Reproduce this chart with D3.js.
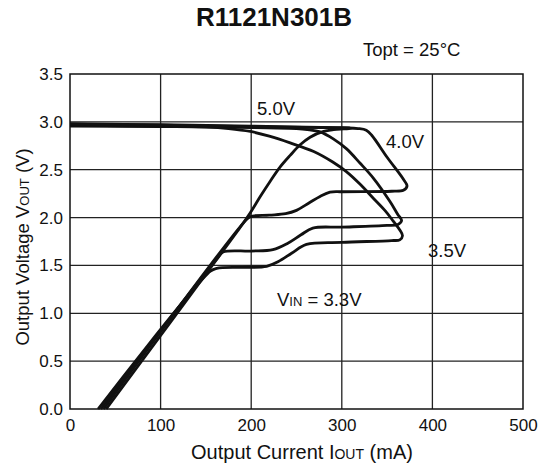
<!DOCTYPE html>
<html>
<head>
<meta charset="utf-8">
<script src="https://cdn.jsdelivr.net/npm/d3@7"></script>
<style>
  body { margin: 0; background: #fff; }
  svg { font-family: "Liberation Sans", Arial, sans-serif; }
</style>
</head>
<body>
<svg width="548" height="466"></svg>
<script>
var xTicks = [0, 100, 200, 300, 400, 500],
    yTicks = [0, 0.5, 1.0, 1.5, 2.0, 2.5, 3.0, 3.5];

// [Iout (mA), Vout (V)]
var vin50 = [[0,2.98],[100,2.97],[200,2.955],[260,2.945],[295,2.94],[308,2.937],[310,2.932],[302,2.926],[291,2.918],[280,2.90],
  [265,2.84],[254,2.76],[243,2.65],[232,2.53],[221,2.38],[210,2.22],[199,2.05],[185,1.86],[40,0]];
var vin40 = [[0,2.975],[100,2.965],[200,2.95],[300,2.937],[318,2.93],[327,2.912],[333,2.86],[350,2.63],[368,2.40],[372,2.33],
  [368,2.285],[355,2.275],[300,2.27],[287,2.265],[276,2.22],[265,2.16],[250,2.075],[238,2.04],[220,2.025],[199,2.01],[192,1.95],[37,0]];
var vin35 = [[0,2.965],[100,2.955],[200,2.94],[250,2.93],[262,2.92],[276,2.895],[291,2.82],[305,2.72],[320,2.57],[335,2.41],
  [353,2.17],[362,2.03],[366,1.97],[362,1.928],[350,1.918],[300,1.90],[268,1.89],[255,1.82],[240,1.73],[224,1.665],[200,1.65],
  [169,1.64],[163,1.58],[34,0]];
var vin33 = [[0,2.955],[100,2.95],[150,2.945],[175,2.93],[199,2.90],[220,2.85],[243,2.78],[269,2.69],[290,2.58],[305,2.48],
  [320,2.35],[335,2.20],[348,2.07],[357,1.96],[364,1.87],[367,1.81],[364,1.767],[355,1.76],[300,1.74],[261,1.72],[245,1.63],
  [230,1.54],[217,1.49],[190,1.48],[162,1.47],[155,1.44],[31,0]];

var svg = d3.select("svg");

var x = d3.scaleLinear().domain([0, 500]).range([70, 523]),
    y = d3.scaleLinear().domain([0, 3.5]).range([409, 74]);

svg.append("rect").attr("width", 548).attr("height", 466).attr("fill", "#fff");

// grid
svg.append("g").selectAll("line")
  .data(xTicks.slice(1, -1))
  .enter().append("line")
    .attr("x1", function(d) { return x(d); }).attr("x2", function(d) { return x(d); })
    .attr("y1", y(0)).attr("y2", y(3.5))
    .attr("stroke", "#222").attr("stroke-width", 1.3);

svg.append("g").selectAll("line")
  .data(yTicks.slice(1, -1))
  .enter().append("line")
    .attr("y1", function(d) { return y(d); }).attr("y2", function(d) { return y(d); })
    .attr("x1", x(0)).attr("x2", x(500))
    .attr("stroke", "#222").attr("stroke-width", 1.3);

svg.append("rect")
    .attr("x", x(0)).attr("y", y(3.5))
    .attr("width", x(500) - x(0)).attr("height", y(0) - y(3.5))
    .attr("fill", "none").attr("stroke", "#111").attr("stroke-width", 1.5);

// axes
var xAxis = svg.append("g")
    .attr("transform", "translate(0," + y(0) + ")")
    .call(d3.axisBottom(x).tickValues(xTicks).tickSize(0).tickPadding(10));
var yAxis = svg.append("g")
    .attr("transform", "translate(" + x(0) + ",0)")
    .call(d3.axisLeft(y).tickValues(yTicks).tickFormat(d3.format(".1f")).tickSize(0).tickPadding(7));
[xAxis, yAxis].forEach(function(g) {
  g.select(".domain").remove();
  g.selectAll("text").attr("font-size", 17).attr("fill", "#111")
    .attr("font-family", "Liberation Sans, Arial, sans-serif");
});

// curves
var line = d3.line()
    .x(function(d) { return x(d[0]); })
    .y(function(d) { return y(d[1]); })
    .curve(d3.curveCatmullRom.alpha(0.5));

svg.append("g").selectAll("path")
  .data([vin33, vin35, vin40, vin50])
  .enter().append("path")
    .attr("d", line)
    .attr("fill", "none")
    .attr("stroke", "#111")
    .attr("stroke-width", 2.8)
    .attr("stroke-linejoin", "round");

// labels
svg.append("text").attr("x", 274).attr("y", 26).attr("text-anchor", "middle")
    .attr("font-size", 26).attr("font-weight", "bold").attr("fill", "#111").text("R1121N301B");
svg.append("text").attr("x", 363).attr("y", 56)
    .attr("font-size", 18.5).attr("fill", "#111").text("Topt = 25°C");

var notes = [
  { t: "5.0V", x: 257, y: 115 },
  { t: "4.0V", x: 386, y: 148 },
  { t: "3.5V", x: 428, y: 257 }
];
svg.append("g").selectAll("text")
  .data(notes)
  .enter().append("text")
    .attr("x", function(d) { return d.x; })
    .attr("y", function(d) { return d.y; })
    .attr("font-size", 18.5).attr("fill", "#111")
    .text(function(d) { return d.t; });

var vinLabel = svg.append("text").attr("x", 277).attr("y", 306).attr("font-size", 18.5).attr("fill", "#111");
vinLabel.append("tspan").text("V");
vinLabel.append("tspan").attr("font-size", 13).text("IN");
vinLabel.append("tspan").text(" = 3.3V");

var xLabel = svg.append("text").attr("x", 302).attr("y", 459).attr("text-anchor", "middle")
    .attr("font-size", 20).attr("fill", "#111");
xLabel.append("tspan").text("Output Current I");
xLabel.append("tspan").attr("font-size", 14).text("OUT");
xLabel.append("tspan").text(" (mA)");

var yLabel = svg.append("text").attr("transform", "translate(29,247) rotate(-90)").attr("text-anchor", "middle")
    .attr("font-size", 18.5).attr("fill", "#111");
yLabel.append("tspan").text("Output Voltage V");
yLabel.append("tspan").attr("font-size", 13).text("OUT");
yLabel.append("tspan").text(" (V)");
</script>
</body>
</html>
